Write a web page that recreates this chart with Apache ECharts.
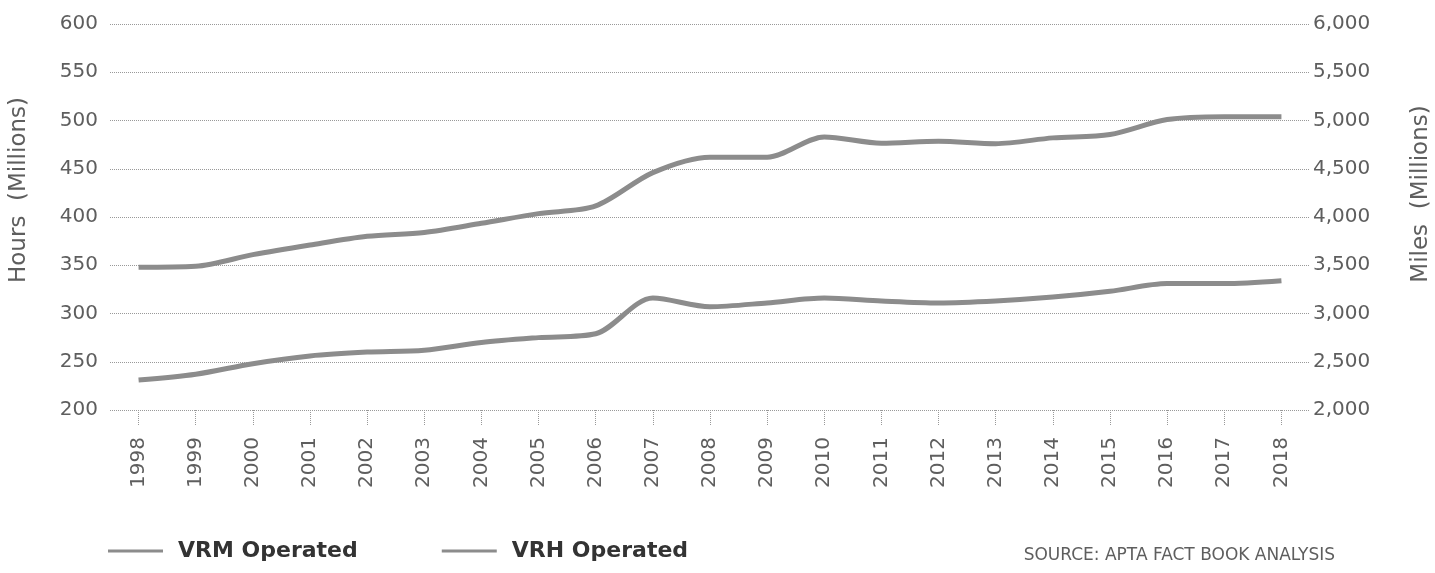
<!DOCTYPE html>
<html>
<head>
<meta charset="utf-8">
<script src="https://cdn.jsdelivr.net/npm/echarts@6/dist/echarts.min.js"></script>
<style>
  html, body { margin: 0; padding: 0; background: #fff; }
  #main { width: 1435px; height: 573px; }
</style>
</head>
<body>
<div id="main"></div>
<script>
// years on the x axis
var years = ['1998', '1999', '2000', '2001', '2002', '2003', '2004', '2005', '2006', '2007',
             '2008', '2009', '2010', '2011', '2012', '2013', '2014', '2015', '2016', '2017', '2018'];

// vehicle revenue miles, millions (right axis)
var vrmMiles = [3480, 3490, 3610, 3710, 3800, 3840, 3935, 4035, 4115, 4460,
                4620, 4620, 4830, 4765, 4785, 4760, 4820, 4855, 5010, 5040, 5040];

// vehicle revenue hours, millions (left axis)
var vrhHours = [231, 237, 248, 256, 260, 262, 270, 275, 279, 316,
                307, 311, 316, 313, 311, 313, 317, 323, 331, 331, 334];

var lineColor = '#8c8c8c';
var textColor = '#5e5e5e';
var fontFamily = '"DejaVu Sans", sans-serif';

var chart = echarts.init(document.getElementById('main'));

chart.setOption({
    animation: false,
    textStyle: { fontFamily: fontFamily },
    grid: {
        left: 110,
        right: 125,
        top: 24,
        bottom: 163,
        outerBoundsMode: 'none'
    },
    legend: {
        left: 103,
        bottom: 6,
        itemGap: 84,
        itemWidth: 55,
        itemHeight: 3,
        icon: 'rect',
        textStyle: { fontSize: 22, fontWeight: 'bold', color: '#333', padding: [0, 0, 0, 10] },
        data: ['VRM Operated', 'VRH Operated']
    },
    graphic: [{
        type: 'text',
        right: 100,
        bottom: 9,
        style: {
            text: 'SOURCE: APTA FACT BOOK ANALYSIS',
            fill: textColor,
            font: '17px ' + fontFamily
        }
    }],
    xAxis: {
        type: 'category',
        data: years,
        boundaryGap: true,
        axisLine: { show: false },
        axisTick: {
            show: true,
            alignWithLabel: true,
            length: 15,
            lineStyle: { color: '#999', type: 'dotted', width: 1 }
        },
        axisLabel: { rotate: 90, fontSize: 20, color: textColor, margin: 27 }
    },
    yAxis: [{
        type: 'value',
        min: 200,
        max: 600,
        interval: 50,
        name: 'Hours  (Millions)',
        nameLocation: 'middle',
        nameGap: 79,
        nameTextStyle: { fontSize: 23, color: textColor, padding: [0, 0, 0, 54] },
        axisLine: { show: false },
        axisTick: { show: false },
        axisLabel: { fontSize: 20, color: textColor, margin: 12 },
        splitLine: { lineStyle: { color: '#999', type: 'dotted', width: 1 } }
    }, {
        type: 'value',
        min: 2000,
        max: 6000,
        interval: 500,
        name: 'Miles  (Millions)',
        nameLocation: 'middle',
        nameGap: 100,
        nameTextStyle: { fontSize: 23, color: textColor, padding: [0, 0, 0, 46] },
        axisLine: { show: false },
        axisTick: { show: false },
        axisLabel: {
            fontSize: 20,
            color: textColor,
            margin: 3,
            formatter: function (v) { return v.toLocaleString('en-US'); }
        },
        splitLine: { show: false }
    }],
    series: [{
        name: 'VRM Operated',
        type: 'line',
        yAxisIndex: 1,
        data: vrmMiles,
        smooth: 0.3,
        showSymbol: false,
        lineStyle: { width: 5, color: lineColor },
        itemStyle: { color: lineColor }
    }, {
        name: 'VRH Operated',
        type: 'line',
        yAxisIndex: 0,
        data: vrhHours,
        smooth: 0.3,
        showSymbol: false,
        lineStyle: { width: 5, color: lineColor },
        itemStyle: { color: lineColor }
    }]
});
</script>
</body>
</html>
